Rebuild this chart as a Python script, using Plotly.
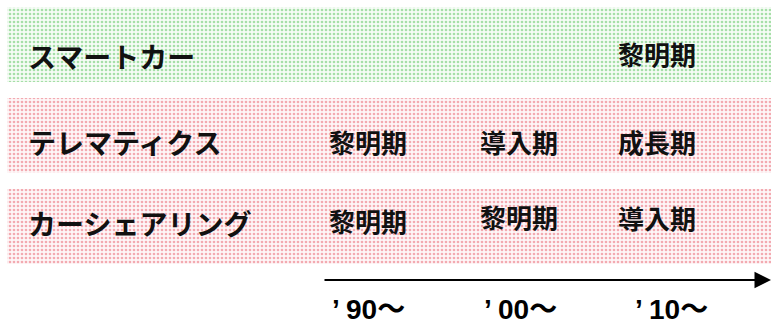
import plotly.graph_objects as go

# Technologies (rows), their stage in each era (columns), and era labels
rows = ["スマートカー", "テレマティクス", "カーシェアリング"]
stages = [
    ["", "", "黎明期"],
    ["黎明期", "導入期", "成長期"],
    ["黎明期", "黎明期", "導入期"],
]
eras = ["’ 90〜", "’ 00〜", "’ 10〜"]

# Layout helpers
band_colors = ["#a6dfa8", "#f3aab1", "#f3aab1"]
band_bg = ["#f6fcf6", "#fef6f7", "#fef6f7"]
col_x = [368, 519, 657]          # centres of the stage columns
era_x = [368, 520, 671]          # centres of the era labels
label_shift = [-11, -6, 4]       # vertical nudges for row labels
stage_shift = [[-9, -9, -9], [-6, -6, -6], [6, 10, 9]]

fig = go.Figure()

for i, name in enumerate(rows):
    fig.add_trace(go.Bar(
        y=[name], x=[764], base=[7], orientation="h", width=0.83,
        marker=dict(
            color=band_bg[i], line=dict(width=0),
            pattern=dict(shape=".", fgcolor=band_colors[i], bgcolor=band_bg[i],
                         size=4, solidity=0.35, fillmode="replace"),
        ),
        hoverinfo="skip", showlegend=False,
    ))

annotations = []
for i, name in enumerate(rows):
    annotations.append(dict(
        x=26, y=name, xref="x", yref="y", text=f"<b>{name}</b>",
        showarrow=False, xanchor="left", yanchor="middle", yshift=label_shift[i],
        font=dict(family="Noto Sans CJK JP", size=28, color="#111111"),
    ))
    for j, s in enumerate(stages[i]):
        if not s:
            continue
        annotations.append(dict(
            x=col_x[j], y=name, xref="x", yref="y", text=f"<b>{s}</b>",
            showarrow=False, xanchor="center", yanchor="middle",
            yshift=stage_shift[i][j],
            font=dict(family="Noto Sans CJK JP", size=26, color="#111111"),
        ))

# Time arrow along the bottom
annotations.append(dict(
    x=771, y=1 - 280 / 326, xref="x", yref="paper",
    ax=323, ay=0, axref="x", ayref="pixel",
    text="", showarrow=True, arrowhead=2, arrowsize=1.5, arrowwidth=2.2,
    arrowcolor="#000000", standoff=0, startstandoff=0,
))

for j, e in enumerate(eras):
    annotations.append(dict(
        x=era_x[j], y=1 - 309 / 326, xref="x", yref="paper", text=f"<b>{e}</b>",
        showarrow=False, xanchor="center", yanchor="middle", borderpad=0,
        font=dict(family="Liberation Sans, Noto Sans CJK JP", size=28, color="#000000"),
    ))

fig.update_layout(
    width=771, height=326,
    margin=dict(l=0, r=0, t=0, b=0),
    paper_bgcolor="white", plot_bgcolor="white",
    bargap=0,
    xaxis=dict(range=[0, 771], visible=False, fixedrange=True),
    yaxis=dict(type="category", categoryorder="array", categoryarray=rows,
               range=[(326 - 44.5) / 91, -44.5 / 91], visible=False, fixedrange=True),
    annotations=annotations,
)

fig.write_html("out.html")
